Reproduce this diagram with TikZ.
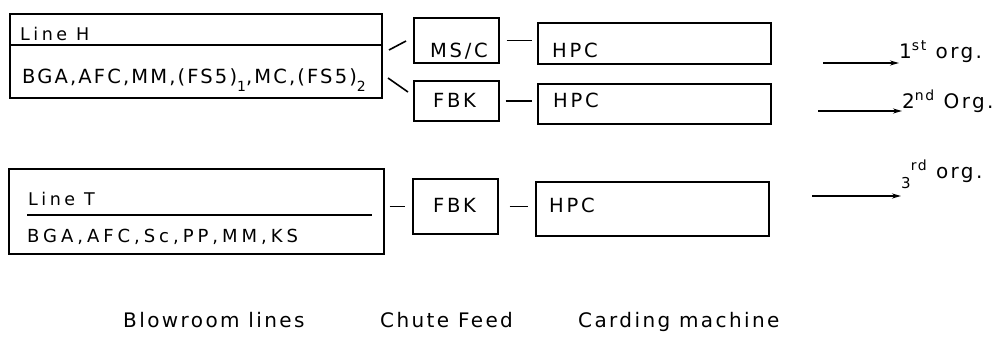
\documentclass[tikz,border=0pt]{standalone}
\usepackage{fontspec}
\setmainfont{DejaVu Sans}[LetterSpace=10]
\usetikzlibrary{arrows.meta}
\newcommand\fsBig{\fontsize{19.5}{22}\selectfont\addfontfeature{LetterSpace=11}}
\newcommand\fsBox{\fontsize{19.5}{22}\selectfont\addfontfeature{LetterSpace=14}}
\newcommand\fsHead{\fontsize{17.5}{20}\selectfont\addfontfeature{LetterSpace=20}}
\newcommand\fsTrow{\fontsize{18}{20}\selectfont\addfontfeature{LetterSpace=22}}
\newcommand\fsOrg{\fontsize{20}{23}\selectfont\addfontfeature{LetterSpace=12}}
\newcommand\fsFoot{\fontsize{20}{23}\selectfont\addfontfeature{LetterSpace=12}}
\newcommand\mysub[1]{\raisebox{-8pt}{\fontsize{14}{14}\selectfont #1}}
\begin{document}
\begin{tikzpicture}[x=1pt,y=-1pt,
  box/.style={draw, line width=1.6pt, inner sep=0pt, anchor=north west},
  txt/.style={inner sep=0pt, anchor=base west},
  conn/.style={line width=1.6pt},
  arr/.style={line width=1.6pt, -{Stealth[length=9pt,width=5pt]}},
]
\useasboundingbox (0,0) rectangle (1007,341);
% ---------- Line H ----------
\node[box, minimum width=372pt, minimum height=84pt] (lineH) at (9,13) {};
\coordinate (hdivL) at (9,45);
\coordinate (hdivR) at (381,45);
\draw[conn] (hdivL) -- (hdivR);
\node[txt, font=\fsHead] (lineHt) at (20,40) {Line H};
\node[txt, font=\fsBig] (lineHc) at (22,83) {BGA,AFC,MM,(FS5)\mysub{1},MC,(FS5)\mysub{2}};
% chute feeds, row 1 and 2
\node[box, minimum width=85pt, minimum height=45pt] (msc) at (413,17) {};
\node[txt, font=\fsBox] (msct) at (430,57) {MS/C};
\node[box, minimum width=85pt, minimum height=40pt] (fbk1) at (413,80) {};
\node[txt, font=\fsBox] (fbk1t) at (433,107) {FBK};
% cards row 1 and 2
\node[box, minimum width=233pt, minimum height=41pt] (hpc1) at (537,22) {};
\node[txt, font=\fsBox] (hpc1t) at (552,57) {HPC};
\node[box, minimum width=233pt, minimum height=40pt] (hpc2) at (537,83) {};
\node[txt, font=\fsBox] (hpc2t) at (553,107) {HPC};
% connectors row 1 and 2
\coordinate (hA1) at (389,50);
\coordinate (hA2) at (406,41);
\draw[conn] (hA1) -- (hA2);
\coordinate (hB1) at (388,78);
\coordinate (hB2) at (408,92);
\draw[conn] (hB1) -- (hB2);
\draw[conn, shorten <=7pt, shorten >=5pt] (msc.east) -- (msc.east -| hpc1.west);
\draw[conn, shorten <=6pt, shorten >=5pt] (fbk1.east) -- (fbk1.east -| hpc2.west);
% ---------- Line T ----------
\node[box, minimum width=375pt, minimum height=85pt] (lineT) at (8,168) {};
\coordinate (tdivL) at (27,215);
\coordinate (tdivR) at (372,215);
\draw[conn] (tdivL) -- (tdivR);
\node[txt, font=\fsHead] (lineTt) at (28,205) {Line T};
\node[txt, font=\fsTrow] (lineTc) at (27,242) {BGA,AFC,Sc,PP,MM,KS};
\node[box, minimum width=85pt, minimum height=55pt] (fbk3) at (412,178) {};
\node[txt, font=\fsBox] (fbk3t) at (433,212) {FBK};
\node[box, minimum width=233pt, minimum height=54pt] (hpc3) at (535,181) {};
\node[txt, font=\fsBox] (hpc3t) at (549,212) {HPC};
\draw[conn, shorten <=5pt, shorten >=7pt] (fbk3.west -| lineT.east) -- (fbk3.west);
\draw[conn, shorten <=11pt, shorten >=7pt] (fbk3.east) -- (fbk3.east -| hpc3.west);
% ---------- outputs ----------
\node[txt, font=\fsOrg] (org1) at (899,58) {1\textsuperscript{st} org.};
\node[txt, font=\fsOrg] (org2) at (902,108) {2\textsuperscript{nd} Org.};
\node[txt, font=\fsOrg] (org3) at (901,178) {\raisebox{-10pt}{\fontsize{15}{15}\selectfont 3}\textsuperscript{rd} org.};
\coordinate (a1) at (823,63);
\coordinate (a2) at (818,111);
\coordinate (a3) at (812,196);
\draw[arr] (a1) -- (a1 -| org1.west);
\draw[arr] (a2) -- (a2 -| org2.west);
\draw[arr] (a3) -- (a3 -| org3.west);
% ---------- captions ----------
\node[txt, font=\fsFoot] (capA) at (123,327) {Blowroom lines};
\node[txt, font=\fsFoot] (capB) at (380,327) {Chute Feed};
\node[txt, font=\fsFoot] (capC) at (578,327) {Carding machine};
\end{tikzpicture}
\end{document}
